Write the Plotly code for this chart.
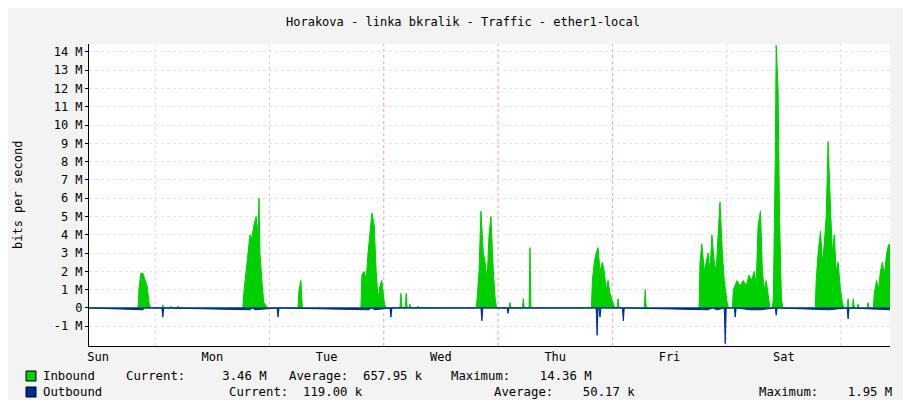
import plotly.graph_objects as go

day_labels = ["Sun", "Mon", "Tue", "Wed", "Thu", "Fri", "Sat"]
day_centers = [12, 36, 60, 84, 108, 132, 156]
midnights = [24, 48, 72, 96, 120, 144, 168]
major_midnights = [96, 120, 72]

# hours since Sunday 00:00, inbound in M bits/s
in_hours = [10.1, 20.4, 20.6, 21.0, 21.4, 21.8, 22.3, 22.7, 23.0, 25.4, 25.6, 25.8, 27.1, 27.3, 27.5, 28.6, 28.8, 29.0,
            42.4, 42.6, 43.1, 43.5, 43.9, 44.3, 44.7, 45.2, 45.6, 45.8, 46.0, 46.4, 46.8, 47.3, 47.6,
            54.0, 54.2, 54.6, 54.9,
            67.2, 67.4, 67.9, 68.3, 68.7, 69.1, 69.5, 70.0, 70.4, 70.8, 71.2, 71.6, 72.1, 72.4,
            75.4, 75.6, 75.8, 76.5, 76.7, 76.9, 77.3, 77.5, 77.7, 79.0, 79.2, 79.4,
            91.4, 91.6, 92.0, 92.4, 92.9, 93.3, 93.7, 94.1, 94.5, 95.0, 95.4, 95.7,
            98.3, 98.5, 98.7, 101.1, 101.3, 101.5, 102.5, 102.7, 102.9,
            115.6, 115.8, 116.2, 116.6, 117.0, 117.4, 117.9, 118.3, 118.7, 119.1, 119.5, 120.2, 120.5,
            121.0, 121.2, 121.4, 126.7, 126.9, 127.1,
            138.2, 138.4, 138.8, 139.3, 139.7, 140.1, 140.5, 140.9, 141.4, 141.8, 142.2, 142.6, 143.1, 143.5, 144.1,
            144.4, 145.2, 145.4, 146.2, 146.8, 147.5, 148.1, 148.7, 149.2, 149.8, 150.2, 150.6, 151.1, 151.5,
            151.9, 152.3, 152.8, 153.1, 153.6, 153.8, 154.2, 154.4, 154.8, 155.1, 155.5, 155.8,
            162.6, 162.8, 163.2, 163.7, 164.1, 164.5, 164.9, 165.3, 165.8, 166.2, 166.6, 167.0, 167.4, 167.9,
            168.3, 168.6, 169.3, 169.5, 169.7, 170.4, 170.6, 170.8, 171.4, 171.6, 171.8, 173.5, 173.7, 173.9,
            174.8, 175.0, 175.5, 175.9, 176.3, 176.7, 177.1, 177.6, 178.0, 178.3]
in_vals = [0, 0, 1.1, 1.9, 1.9, 1.6, 1.2, 0.3, 0, 0, 0.15, 0, 0, 0.1, 0, 0, 0.1, 0,
           0, 0.8, 2.0, 3.0, 4.0, 3.8, 4.5, 5.0, 4.0, 6.0, 3.0, 1.5, 0.3, 0.1, 0,
           0, 1.0, 1.5, 0,
           0, 1.8, 2.0, 1.5, 3.0, 4.0, 5.2, 4.5, 2.0, 0.5, 1.2, 1.5, 0.3, 0,
           0, 0.8, 0, 0, 0.8, 0, 0, 0.2, 0, 0, 0.1, 0,
           0, 0.5, 2.0, 5.3, 3.0, 2.5, 1.5, 4.0, 5.0, 2.0, 0.5, 0,
           0, 0.3, 0, 0, 0.5, 0, 0, 3.3, 0,
           0, 1.5, 2.5, 3.0, 3.3, 2.0, 2.5, 2.0, 1.0, 1.5, 0.8, 0.3, 0,
           0, 0.5, 0, 0, 1.0, 0,
           0, 2.5, 3.5, 2.0, 2.5, 3.0, 2.0, 4.0, 2.5, 2.0, 4.0, 5.8, 3.0, 1.5, 0.3,
           0, 0, 1.0, 1.5, 1.2, 1.5, 1.2, 1.8, 1.5, 2.0, 1.3, 4.5, 5.3, 2.0,
           1.0, 1.5, 0.5, 0, 0, 0.5, 8.0, 14.36, 12.0, 5.0, 0.5, 0,
           0, 1.5, 3.0, 4.2, 2.5, 3.5, 5.0, 9.1, 5.5, 3.0, 4.0, 2.0, 2.5, 1.0,
           0.3, 0, 0, 0.5, 0, 0, 0.5, 0, 0, 0.2, 0, 0, 0.3, 0,
           0, 0.8, 1.5, 1.0, 2.0, 2.5, 1.8, 3.0, 3.46, 3.46]

out_hours = [10.1, 21.0, 21.4, 21.8, 25.4, 25.6, 25.8, 44.0, 44.4, 45.0, 49.6, 49.8, 50.0,
             68.8, 69.4, 70.2, 73.3, 73.5, 73.7, 92.4, 92.6, 92.8, 97.9, 98.1, 98.3,
             116.6, 116.8, 117.0, 117.2, 117.4, 117.6, 122.1, 122.3, 122.5,
             140.0, 141.0, 142.0, 143.5, 143.7, 143.9, 145.6, 145.8, 146.0, 149.0, 151.0,
             154.2, 154.4, 154.6, 164.0, 165.5, 169.3, 169.5, 169.7, 176.0, 178.3]
out_vals = [0, -0.1, -0.1, 0, 0, -0.5, 0, -0.1, 0, -0.1, 0, -0.5, 0,
            -0.1, 0, -0.1, 0, -0.5, 0, 0, -0.7, 0, 0, -0.3, 0,
            0, -1.5, 0, 0, -0.5, 0, 0, -0.7, 0,
            -0.1, 0, -0.1, 0, -1.95, 0, 0, -0.5, 0, -0.1, -0.1,
            0, -0.4, 0, -0.1, -0.1, 0, -0.6, 0, -0.1, -0.1]

ytick_vals = list(range(-1, 15))
ytick_text = ["-1 M", "0"] + [f"{v} M" for v in range(1, 15)]

W, H = 911, 400
L, R, T, B = 81, 882, 36, 338
def px(x): return (x - L) / (R - L)
def py(y): return (B - y) / (B - T)

mono = "DejaVu Sans Mono"
fig = go.Figure()
fig.add_trace(go.Scatter(x=in_hours, y=in_vals, mode="lines", fill="tozeroy",
                         line=dict(color="#00CF00", width=1), fillcolor="#00CF00"))
fig.add_trace(go.Scatter(x=out_hours, y=out_vals, mode="lines", fill="tozeroy",
                         line=dict(color="#002A97", width=1), fillcolor="#002A97"))

shapes = []
for m in midnights:
    shapes.append(dict(type="line", x0=m, x1=m, y0=0, y1=1, yref="paper", xref="x",
                       line=dict(color="#FF9999" if m in major_midnights else "#D8D8D8", width=1, dash="dot"), layer="below"))
shapes.append(dict(type="line", x0=0, x1=1, xref="paper", y0=0, y1=0, yref="y",
                   line=dict(color="#002A97", width=1)))
for yy, col in [(368, "#00CF00"), (384, "#002A97")]:
    shapes.append(dict(type="rect", xref="paper", yref="paper", x0=px(18), x1=px(28), y0=py(373), y1=py(363),
                       fillcolor=col, line=dict(color="#000000", width=1)))
    shapes[-1]["y0"], shapes[-1]["y1"] = py(yy + 5), py(yy - 5)
fig.update_layout(shapes=shapes)

ann = [dict(text="Horakova - linka bkralik - Traffic - ether1-local", x=px(455), y=py(14),
            font=dict(size=12)),
       dict(text="bits per second", x=px(10), y=py(187), textangle=-90, font=dict(size=12)),
       dict(text="RRDTOOL / TOBI OETIKER", x=px(901), y=py(58), textangle=90,
            font=dict(size=7, color="#999999"))]
rows = [(368, [(33, "Inbound"), (116, "Current:\u00a0\u00a0\u00a0\u00a0\u00a03.46\u00a0M"),
               (279, "Average:\u00a0\u00a0657.95\u00a0k"), (441, "Maximum:\u00a0\u00a0\u00a0\u00a014.36\u00a0M")]),
        (384, [(33, "Outbound"), (219, "Current:\u00a0\u00a0119.00\u00a0k"),
               (484, "Average:\u00a0\u00a0\u00a0\u00a050.17\u00a0k"), (749, "Maximum:\u00a0\u00a0\u00a0\u00a01.95\u00a0M")])]
for yy, items in rows:
    for xx, t in items:
        ann.append(dict(text=t, x=px(xx), y=py(yy), xanchor="left", font=dict(size=12.3)))
for a in ann:
    a.setdefault("xanchor", "center")
    a.update(xref="paper", yref="paper", showarrow=False, yanchor="middle")
    a["font"].setdefault("color", "#000000")
    a["font"]["family"] = mono
fig.update_layout(annotations=ann)

fig.update_layout(
    width=W, height=H, showlegend=False,
    margin=dict(l=L, r=W - R, t=T, b=H - B, autoexpand=False),
    paper_bgcolor="#F3F3F3", plot_bgcolor="#FFFFFF",
    font=dict(family=mono, size=12, color="#000000"),
    xaxis=dict(range=[10.1, 178.3], tickvals=day_centers, ticktext=day_labels, showgrid=False,
               zeroline=False, showline=True, linecolor="#000000", ticks="", tickfont=dict(size=12),
               automargin=False),
    yaxis=dict(range=[-2.08, 14.43], tickvals=ytick_vals, ticktext=ytick_text, showgrid=True,
               gridcolor="#E2E2E2", griddash="dot", zeroline=False, showline=True, linecolor="#000000",
               ticks="outside", ticklen=3, tickcolor="#000000", tickfont=dict(size=12), automargin=False),
)
fig.write_html("out.html")
